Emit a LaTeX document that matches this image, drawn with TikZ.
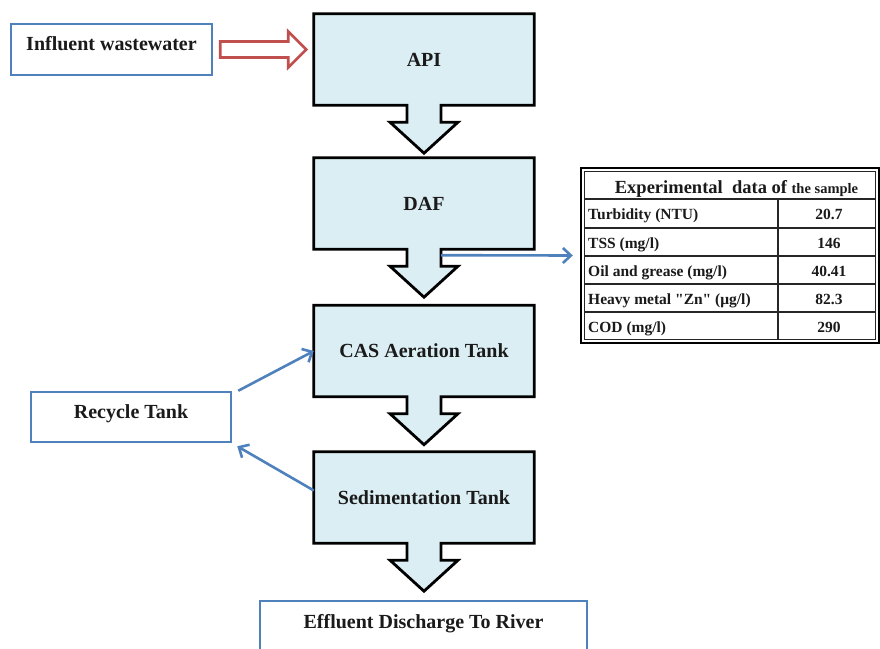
\documentclass[tikz,border=0pt]{standalone}
\usepackage{fontspec}
\setmainfont{Liberation Serif}
\newfontfamily\rawserif[Ligatures=TeXOff]{Liberation Serif}
\usetikzlibrary{arrows.meta,backgrounds,calc}
\definecolor{tankfill}{RGB}{219,238,244}
\definecolor{officeblue}{RGB}{79,129,189}
\definecolor{officered}{RGB}{192,80,77}
\definecolor{inkc}{RGB}{26,26,26}
\newcommand{\tankoutline}[1]{%
  \draw[tank] (#1.north west) -- (#1.north east) -- (#1.south east)
   -- ([xshift=17pt]#1.south) -- ([xshift=17pt,yshift=-17pt]#1.south)
   -- ([xshift=34pt,yshift=-17pt]#1.south) -- ([yshift=-48pt]#1.south)
   -- ([xshift=-34pt,yshift=-17pt]#1.south) -- ([xshift=-17pt,yshift=-17pt]#1.south)
   -- ([xshift=-17pt]#1.south) -- (#1.south west) -- cycle;}
\begin{document}
\begin{tikzpicture}[x=1pt,y=-1pt,
  lbl/.style={font=\fontsize{20}{24}\selectfont\bfseries, text=inkc},
  tank/.style={draw=black, line width=2.8pt, fill=tankfill, line join=miter},
  tankbox/.style={lbl, minimum width=220pt, minimum height=91pt, inner sep=0pt},
  bluebox/.style={lbl, draw=officeblue, line width=2.5pt, fill=white, inner sep=0pt},
  link/.style={draw=officeblue, line width=2.6pt, -{Straight Barb[length=8pt,width=15pt,line width=2.6pt]}},
  hollow/.style={draw=officered, line width=2.6pt, fill=white, line join=miter},
  cellt/.style={font=\fontsize{15.5}{18}\selectfont\bfseries, text=inkc, inner sep=0pt},
  grid/.style={draw=black!85, line width=1.4pt}]
\useasboundingbox (0,0) rectangle (880,648);

% process tanks
\node[tankbox] (api) at (424,59.5) {API};
\node[tankbox] (daf) at (424,203.5) {DAF};
\node[tankbox] (cas) at (424,351) {CAS Aeration Tank};
\node[tankbox] (sed) at (424,497.5) {Sedimentation Tank};

\begin{scope}[on background layer]
  \fill[white] (0,0) rectangle (880,648);
  \tankoutline{api}
  \tankoutline{daf}
  \tankoutline{cas}
  \tankoutline{sed}
\end{scope}

% side boxes
\node[bluebox, minimum width=201pt, minimum height=51pt, text height=14pt, text depth=13pt] (infl) at (111.5,49.5) {Influent wastewater};
\node[bluebox, minimum width=200pt, minimum height=50pt, text height=14pt, text depth=11pt] (rec) at (131,417) {Recycle Tank};
\node[bluebox, minimum width=327pt, minimum height=54pt, text height=14pt, text depth=13pt] (eff) at (423.5,628) {Effluent Discharge To River};

% red hollow arrow
\draw[hollow] ($(infl.east)+(7,-8)$) -- ($(infl.east)+(75,-8)$) -- ($(infl.east)+(75,-18)$)
  -- ($(infl.east)+(93,0)$) -- ($(infl.east)+(75,18)$) -- ($(infl.east)+(75,8)$)
  -- ($(infl.east)+(7,8)$) -- cycle;

% table
\node[minimum width=298pt, minimum height=175pt, inner sep=0pt] (tab) at (730,255.5) {};
\draw[black, line width=2.2pt] (tab.north west) rectangle (tab.south east);
\draw[black!85, line width=1pt] ([xshift=3.5pt,yshift=-3.5pt]tab.north west) rectangle ([xshift=-3.5pt,yshift=3.5pt]tab.south east);
\foreach \yy in {199,228,256,284,312} \draw[grid] (584.5,\yy) -- (875.5,\yy);
\draw[grid] (778,199) -- (778,340);
\node[anchor=base, inner sep=0pt, text=inkc, font=\fontsize{18.5}{21}\selectfont\bfseries] (hdr) at (736.5,193) {Experimental\ \ data of {\fontsize{14.5}{17}\selectfont the sample}};
\node[cellt, anchor=base west] (r1) at (588,219.5) {Turbidity (NTU)};
\node[cellt, anchor=base west] (r2) at (588,248) {TSS (mg/l)};
\node[cellt, anchor=base west] (r3) at (588,276) {Oil and grease (mg/l)};
\node[cellt, anchor=base west] (r4) at (588,304) {Heavy metal {\rawserif\bfseries "Zn"} (μg/l)};
\node[cellt, anchor=base west] (r5) at (588,332) {COD (mg/l)};
\node[cellt, anchor=base] (v1) at (829,219.5) {20.7};
\node[cellt, anchor=base] (v2) at (829,248) {146};
\node[cellt, anchor=base] (v3) at (829,276) {40.41};
\node[cellt, anchor=base] (v4) at (829,304) {82.3};
\node[cellt, anchor=base] (v5) at (829,332) {290};

% blue connectors
\draw[link] ([xshift=17pt,yshift=-6pt]daf.south) -- ([xshift=-8pt]tab.west);
\draw[link] ([xshift=6pt]rec.north east) -- (cas.west);
\draw[link] ([yshift=7pt]sed.west) -- ([xshift=5pt,yshift=-3pt]rec.south east);
\end{tikzpicture}
\end{document}
